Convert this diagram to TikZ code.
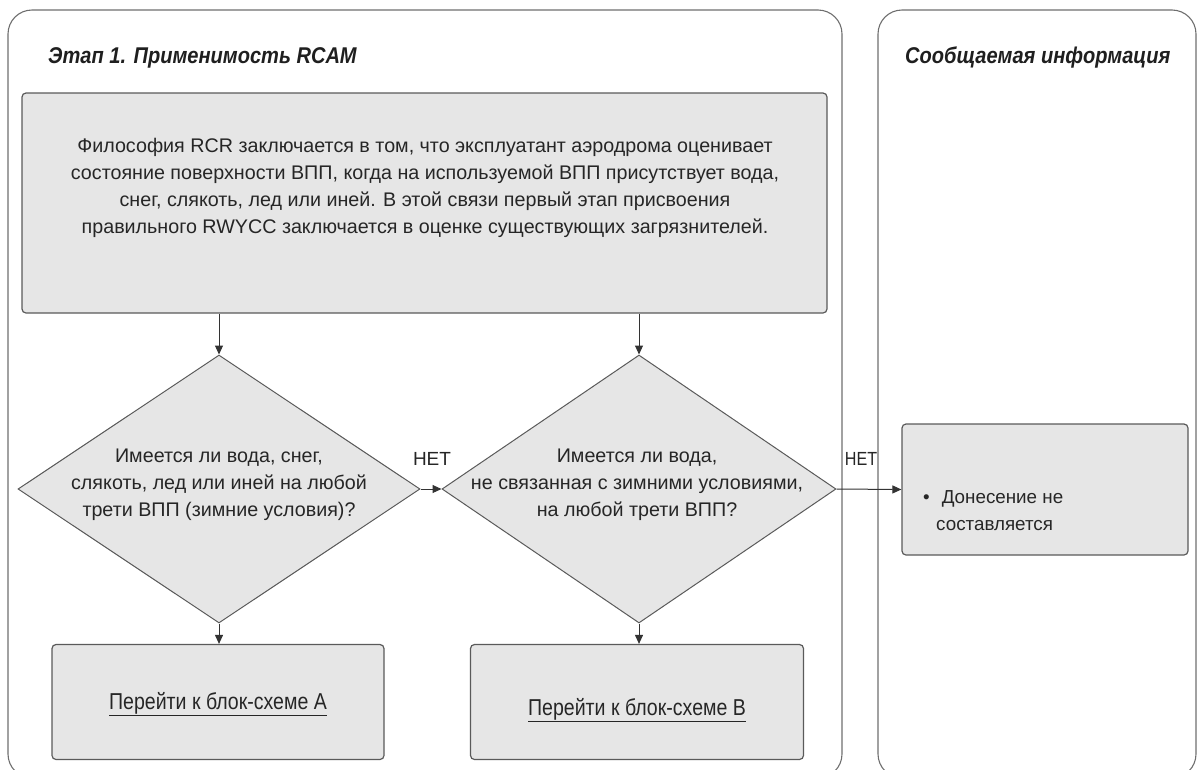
\documentclass[tikz,border=0pt]{standalone}
\usepackage{fontspec}
\setmainfont{Liberation Sans}
\newfontfamily\narrowfont[FakeStretch=0.85]{Liberation Sans}
\newfontfamily\titlefont[FakeStretch=0.88]{Liberation Sans}
\usetikzlibrary{shapes.geometric,arrows.meta}
\definecolor{boxfill}{HTML}{E6E6E6}
\definecolor{boxline}{HTML}{5A5A5A}
\definecolor{panelline}{HTML}{6E6E6E}
\definecolor{txt}{HTML}{262626}
\tikzset{
  panel/.style={draw=panelline, line width=1.1pt, rounded corners=24pt},
  greybox/.style={draw=boxline, fill=boxfill, line width=1.2pt, rounded corners=4pt, inner sep=0pt},
  decision/.style={diamond, draw=boxline, fill=boxfill, line width=1pt, inner sep=0pt},
  body/.style={text=txt, font=\fontsize{19.7}{27}\selectfont, align=center, inner sep=0pt},
  paneltitle/.style={text=black!88, font=\titlefont\bfseries\itshape\fontsize{22.8}{26}\selectfont, anchor=west, inner sep=0pt},
  lbl/.style={text=txt, font=\fontsize{19}{22}\selectfont, inner sep=0pt},
  arr/.style={draw=black!80, line width=1pt, -{Triangle[length=9pt,width=8pt]}},
}
\begin{document}
\begin{tikzpicture}[x=1pt,y=-1pt]
\useasboundingbox (0,0) rectangle (1200,769);
\begin{scope}
\clip (0,0) rectangle (1200,769);
% panels
\draw[panel] (8,10) rectangle (842,778);
\draw[panel] (878,10) rectangle (1196,778);
\end{scope}
\node[paneltitle] (t1) at (48,58) {Этап 1. Применимость RCAM};
\node[paneltitle] (t2) at (905,58) {Сообщаемая информация};
% top box
\node[greybox, minimum width=805pt, minimum height=220pt] (top) at (424.5,203) {};
\node[body] (toptext) at (425,188) {Философия RCR заключается в том, что эксплуатант аэродрома оценивает\\состояние поверхности ВПП, когда на используемой ВПП присутствует вода,\\снег, слякоть, лед или иней. В этой связи первый этап присвоения\\правильного RWYCC заключается в оценке существующих загрязнителей.};
% diamonds
\node[decision, minimum width=402pt, minimum height=268pt] (d1) at (219,489) {};
\node[body] (d1t) at (219,484.5) {Имеется ли вода, снег,\\слякоть, лед или иней на любой\\трети ВПП (зимние условия)?};
\node[decision, minimum width=394pt, minimum height=268pt] (d2) at (639,489) {};
\node[body] (d2t) at (637,484.5) {Имеется ли вода,\\не связанная с зимними условиями,\\на любой трети ВПП?};
% result boxes
\node[greybox, minimum width=332pt, minimum height=115pt] (ba) at (218,702) {};
\node[lbl, font=\narrowfont\fontsize{23}{26}\selectfont] (bat) at (218,704) {\underline{Перейти к блок-схеме А}};
\node[greybox, minimum width=333pt, minimum height=115pt] (bb) at (637,702) {};
\node[lbl, font=\narrowfont\fontsize{23}{26}\selectfont] (bbt) at (637,710) {\underline{Перейти к блок-схеме В}};
\node[greybox, minimum width=286pt, minimum height=131pt] (rb) at (1045,489.5) {};
\node[lbl, align=left, anchor=west, font=\fontsize{18.8}{27}\selectfont] (rbt) at (923,511) {\textbullet\hspace{12pt}Донесение не\\\hspace{13pt}составляется};
% connectors
\draw[arr] (d1.north |- top.south) -- (d1.north);
\draw[arr] (d2.north |- top.south) -- (d2.north);
\draw[arr] (d1.east) -- (d2.west);
\draw[arr] (d2.east) -- (rb.west);
\draw[arr] (d1.south) -- (ba.north -| d1.south);
\draw[arr] (d2.south) -- (bb.north -| d2.south);
% labels
\node[lbl] (no1) at (432,459) {НЕТ};
\node[lbl, font=\narrowfont\fontsize{19}{22}\selectfont] (no2) at (861,459) {НЕТ};
\end{tikzpicture}
\end{document}
